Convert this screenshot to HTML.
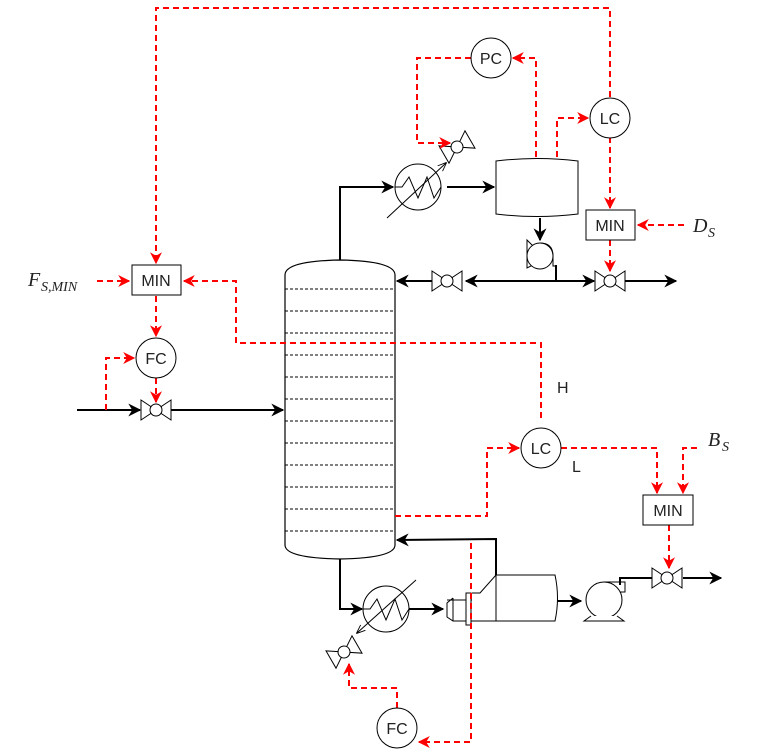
<!DOCTYPE html>
<html><head><meta charset="utf-8"><style>
html,body{margin:0;padding:0;background:#fff}
svg{display:block}
text{font-family:"Liberation Sans",sans-serif;font-size:16px;fill:#222}
.m{font-family:"Liberation Serif",serif;font-style:italic;font-size:20px}
.s{font-family:"Liberation Serif",serif;font-style:italic;font-size:14px}
</style></head><body>
<svg width="759" height="749" viewBox="0 0 759 749" xmlns="http://www.w3.org/2000/svg">
<defs>
<marker id="ab" viewBox="0 0 10 10" refX="9" refY="5" markerWidth="13" markerHeight="13" markerUnits="userSpaceOnUse" orient="auto-start-reverse"><path d="M0,0 L10,5 L0,10 L3,5 Z" fill="#000"/></marker>
<marker id="ar" viewBox="0 0 10 10" refX="9" refY="5" markerWidth="12" markerHeight="12" markerUnits="userSpaceOnUse" orient="auto"><path d="M0,0 L10,5 L0,10 L3,5 Z" fill="#f00"/></marker>
<marker id="ao" viewBox="0 0 10 10" refX="9" refY="5" markerWidth="9" markerHeight="9" markerUnits="userSpaceOnUse" orient="auto"><path d="M0,1 L10,5 L0,9" fill="none" stroke="#000"/></marker>
<g id="v"><path d="M-15,-10 L0,0 L-15,10 Z M15,-10 L0,0 L15,10 Z" fill="#fff" stroke="#000" stroke-width="1"/><circle r="6" fill="#fff" stroke="#000"/></g>
</defs>

<!-- column -->
<path d="M285,275 Q285,261 340,260 Q395,261 395,275 L395,545 Q395,558 340,559 Q285,558 285,545 Z" fill="#fff" stroke="#000" stroke-width="1.2"/>
<g stroke="#000" stroke-width="1" stroke-dasharray="3,2">
<line x1="285" y1="289" x2="395" y2="289"/><line x1="285" y1="311" x2="395" y2="311"/><line x1="285" y1="333" x2="395" y2="333"/><line x1="285" y1="355" x2="395" y2="355"/><line x1="285" y1="377" x2="395" y2="377"/><line x1="285" y1="399" x2="395" y2="399"/><line x1="285" y1="421" x2="395" y2="421"/><line x1="285" y1="443" x2="395" y2="443"/><line x1="285" y1="465" x2="395" y2="465"/><line x1="285" y1="487" x2="395" y2="487"/><line x1="285" y1="509" x2="395" y2="509"/><line x1="285" y1="531" x2="395" y2="531"/>
</g>

<!-- black process lines -->
<g fill="none" stroke="#000" stroke-width="2">
<path d="M340,260 L340,187 L393,187" marker-end="url(#ab)"/>
<path d="M447,187 L494,187" marker-end="url(#ab)"/>
<path d="M540,218 L540,240" marker-end="url(#ab)"/>
<path d="M432,281 L397,281" marker-end="url(#ab)"/>
<path d="M466,281 L594,281" marker-start="url(#ab)" marker-end="url(#ab)"/>
<path d="M556,265 L556,281"/>
<path d="M625,281 L676,281" marker-end="url(#ab)"/>
<path d="M77,410 L140,410" marker-end="url(#ab)"/>
<path d="M171,410 L283,410" marker-end="url(#ab)"/>
<path d="M340,559 L340,609 L362,609" marker-end="url(#ab)"/>
<path d="M408,609 L443,609" marker-end="url(#ab)"/>
<path d="M496,580 L496,539 L397,540" marker-end="url(#ab)"/>
<path d="M556,601 L581,601" marker-end="url(#ab)"/>
<path d="M620,585 L620,578 L652,578"/>
<path d="M683,578 L721,578" marker-end="url(#ab)"/>
</g>

<!-- condenser -->
<circle cx="418" cy="187" r="23" fill="#fff" stroke="#000"/>
<path d="M395,187 L402,187 L409,177 L418,198 L427,177 L434,198 L441,187" fill="none" stroke="#000"/>
<path d="M387,218 L446,163" stroke="#000" fill="none" marker-end="url(#ao)"/>
<use href="#v" transform="translate(457,147) rotate(-30)"/>
<!-- reflux drum -->
<path d="M496,161 Q537,156 578,161 L578,214 Q537,219 496,214 Z" fill="#fff" stroke="#000"/>
<!-- top pump -->
<path d="M527,240 L533,246 L533,265 L527,268 Z" fill="#fff" stroke="#000"/>
<circle cx="540" cy="256" r="13" fill="#fff" stroke="#000"/>
<path d="M540,243 Q553,243 553,256 L553,266 L556,266 L556,281" fill="none" stroke="#000"/>
<use href="#v" transform="translate(447,281)"/>
<use href="#v" transform="translate(610,281)"/>
<use href="#v" transform="translate(156,410)"/>

<!-- reboiler -->
<circle cx="386" cy="609" r="23" fill="#fff" stroke="#000"/>
<path d="M363,609 L370,609 L377,599 L386,620 L395,599 L402,620 L409,609" fill="none" stroke="#000"/>
<path d="M416,580 L357,633" stroke="#000" fill="none" marker-end="url(#ao)"/>
<use href="#v" transform="translate(344,652) rotate(-30)"/>
<!-- horizontal vessel -->
<path d="M453,598 L447,603 L447,617 L453,621 L555,621 Q560,598 555,575 L496,575 L480,593 L472,593" fill="#fff" stroke="#000"/>
<path d="M453,598 L453,621 M496,575 L496,621" stroke="#000" fill="none"/>
<line x1="447" y1="600" x2="472" y2="600" stroke="#000"/>
<rect x="466" y="593" width="5" height="32" fill="#fff" stroke="#000"/>
<!-- bottom pump -->
<circle cx="604" cy="600" r="18" fill="#fff" stroke="#000"/>
<path d="M604,582 L625,582 L625,592 L620,592" fill="none" stroke="#000"/>
<path d="M591,616 L584,621 L624,621 L617,616" fill="#fff" stroke="#000"/>
<use href="#v" transform="translate(667,578)"/>

<!-- red dashed signals -->
<g fill="none" stroke="#f00" stroke-width="2" stroke-dasharray="6,4">
<path d="M610,97 L610,8 L156,8 L156,263" marker-end="url(#ar)"/>
<path d="M536,157 L536,58 L513,58" marker-end="url(#ar)"/>
<path d="M471,58 L417,58 L417,143 L450,143" marker-end="url(#ar)"/>
<path d="M557,157 L557,118 L588,118" marker-end="url(#ar)"/>
<path d="M610,137 L610,208" marker-end="url(#ar)"/>
<path d="M684,225 L638,225" marker-end="url(#ar)"/>
<path d="M610,240 L610,271" marker-end="url(#ar)"/>
<path d="M97,281 L129,281" marker-end="url(#ar)"/>
<path d="M541,418 L541,343 L236,343 L236,281 L184,281" marker-end="url(#ar)"/>
<path d="M156,296 L156,336" marker-end="url(#ar)"/>
<path d="M106,410 L106,358 L134,358" marker-end="url(#ar)"/>
<path d="M156,378 L156,402" marker-end="url(#ar)"/>
<path d="M395,516 L487,516 L487,448 L519,448" marker-end="url(#ar)"/>
<path d="M561,448 L657,448 L657,493" marker-end="url(#ar)"/>
<path d="M697,448 L683,448 L683,493" marker-end="url(#ar)"/>
<path d="M669,525 L669,568" marker-end="url(#ar)"/>
<path d="M471,543 L471,742 L419,742" marker-end="url(#ar)"/>
<path d="M397,708 L397,688 L349,688 L349,664" marker-end="url(#ar)"/>
</g>

<!-- controllers -->
<circle cx="491" cy="58" r="20" fill="#fff" stroke="#000"/><text x="491" y="64" text-anchor="middle">PC</text>
<circle cx="610" cy="118" r="20" fill="#fff" stroke="#000"/><text x="610" y="124" text-anchor="middle">LC</text>
<rect x="586" y="210" width="49" height="30" fill="#fff" stroke="#000"/><text x="610" y="231" text-anchor="middle">MIN</text>
<rect x="132" y="265" width="49" height="30" fill="#fff" stroke="#000"/><text x="156" y="286" text-anchor="middle">MIN</text>
<circle cx="156" cy="358" r="20" fill="#fff" stroke="#000"/><text x="156" y="364" text-anchor="middle">FC</text>
<circle cx="541" cy="448" r="20" fill="#fff" stroke="#000"/><text x="541" y="454" text-anchor="middle">LC</text>
<rect x="643" y="495" width="50" height="30" fill="#fff" stroke="#000"/><text x="668" y="516" text-anchor="middle">MIN</text>
<circle cx="397" cy="728" r="20" fill="#fff" stroke="#000"/><text x="397" y="734" text-anchor="middle">FC</text>
<text x="557" y="393">H</text>
<text x="572" y="472">L</text>
<text x="28" y="286" class="m">F</text><text x="41" y="291" class="s">S,MIN</text>
<text x="693" y="232" class="m">D</text><text x="708" y="237" class="s">S</text>
<text x="708" y="446" class="m">B</text><text x="722" y="451" class="s">S</text>
</svg>
</body></html>
